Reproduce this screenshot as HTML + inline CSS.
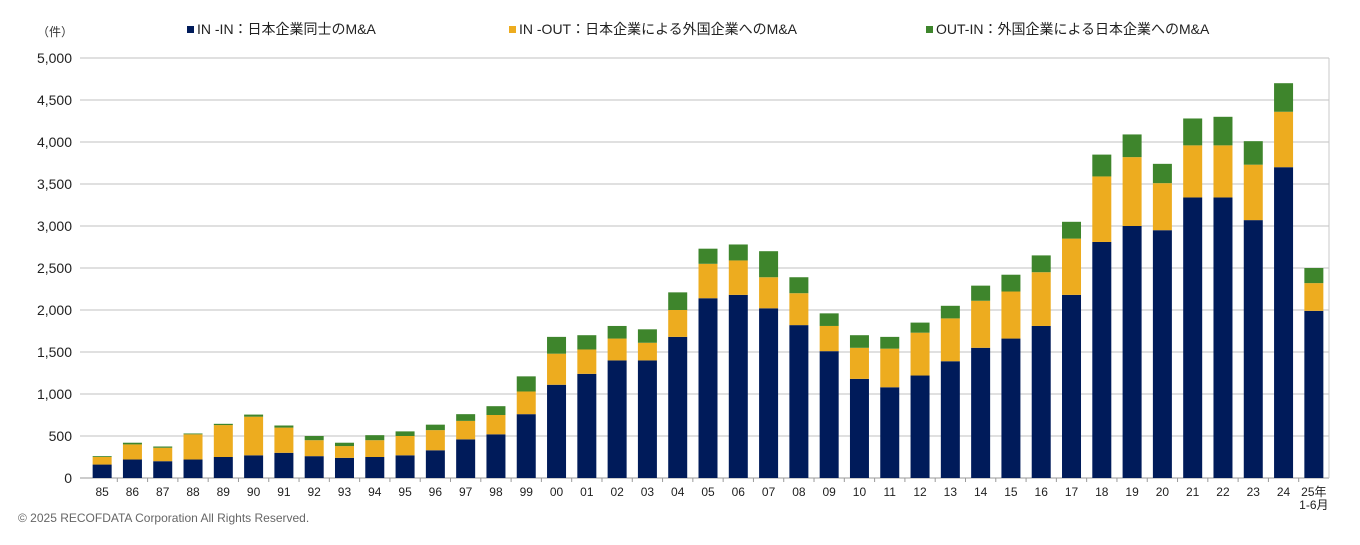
<!DOCTYPE html>
<html><head><meta charset="utf-8">
<style>
body{margin:0;background:#fff;font-family:"Liberation Sans","Noto Sans CJK JP",sans-serif;}
svg text{font-family:"Liberation Sans","Noto Sans CJK JP",sans-serif;}
</style></head>
<body>
<svg id="chart" width="1360" height="540" viewBox="0 0 1360 540" xmlns="http://www.w3.org/2000/svg">
<text x="37" y="36" font-size="12" fill="#333">（件）</text>
<g>
<rect x="187" y="26" width="7" height="7" fill="#001b5a"/>
<text x="197" y="34" font-size="14" fill="#222">IN -IN：日本企業同士のM&amp;A</text>
<rect x="509" y="26" width="7" height="7" fill="#edac1f"/>
<text x="519" y="34" font-size="14" fill="#222">IN -OUT：日本企業による外国企業へのM&amp;A</text>
<rect x="926" y="26" width="7" height="7" fill="#3e852c"/>
<text x="936" y="34" font-size="14" fill="#222">OUT-IN：外国企業による日本企業へのM&amp;A</text>
</g>
<g id="grid"></g><g id="bars"></g><g id="axes"></g>
<text x="18" y="522" font-size="12" fill="#666">© 2025 RECOFDATA Corporation All Rights Reserved.</text>
</svg>
<script>
const categories=["85","86","87","88","89","90","91","92","93","94","95","96","97","98","99","00","01","02","03","04","05","06","07","08","09","10","11","12","13","14","15","16","17","18","19","20","21","22","23","24","25年"];
const inIn=[160,220,200,220,250,270,300,260,240,250,270,330,460,520,760,1110,1240,1400,1400,1680,2140,2180,2020,1820,1510,1180,1080,1220,1390,1550,1660,1810,2180,2810,3000,2950,3340,3340,3070,3700,1990];
const inOut=[90,180,160,300,380,460,300,190,140,200,230,240,220,230,270,370,290,260,210,320,410,410,370,380,300,370,460,510,510,560,560,640,670,780,820,560,620,620,660,660,330];
const outIn=[10,20,15,10,15,25,25,50,40,60,55,65,80,105,180,200,170,150,160,210,180,190,310,190,150,150,140,120,150,180,200,200,200,260,270,230,320,340,280,340,180];
const yTicks=[0,500,1000,1500,2000,2500,3000,3500,4000,4500,5000];
const tickLabels=["0","500","1,000","1,500","2,000","2,500","3,000","3,500","4,000","4,500","5,000"];
const NS="http://www.w3.org/2000/svg";
const L=87,R=1329,T=58,B=478,YMAX=5000;
const y=v=>B-(v/YMAX)*(B-T);
const step=(R-L)/categories.length;
const xc=i=>L+step*(i+0.5);
const bw=19;
function mk(tag,attrs,parent){const e=document.createElementNS(NS,tag);for(const k in attrs)e.setAttribute(k,attrs[k]);document.getElementById(parent).appendChild(e);return e;}
yTicks.forEach((t,i)=>{
 const g=mk("line",{x1:80,x2:R,y1:y(t),y2:y(t),stroke:t===0?"#999":"#c0c0c0","stroke-width":1},"grid");
 
 
 const tx=mk("text",{x:72,y:y(t)+5,"font-size":14,"text-anchor":"end",fill:"#222"},"axes");
 tx.textContent=tickLabels[i];
 
 
});
const ra=mk("line",{x1:R,x2:R,y1:T,y2:B,stroke:"#c8c8c8"},"axes");


const series=[[inIn,"#001b5a","in-in"],[inOut,"#edac1f","in-out"],[outIn,"#3e852c","out-in"]];
categories.forEach((c,i)=>{
 let base=0;
 series.forEach(([arr,col,nm])=>{
  const v=arr[i];
  const r=mk("rect",{x:xc(i)-bw/2,y:y(base+v),width:bw,height:y(base)-y(base+v),fill:col},"bars");
  
  
  base+=v;
 });
 const t=mk("text",{x:xc(i),y:496,"font-size":12,"text-anchor":"middle",fill:"#222"},"axes");
 t.textContent=c;
 
 
 if(i===categories.length-1){
  const t2=mk("text",{x:xc(i),y:509,"font-size":12,"text-anchor":"middle",fill:"#222"},"axes");
  t2.textContent="1-6月";
  
  
 }
 if(i>0){
  const tk=mk("line",{x1:L+step*i,x2:L+step*i,y1:B,y2:B+4,stroke:"#999"},"axes");
  
  
 }
});
</script>
</body></html>
